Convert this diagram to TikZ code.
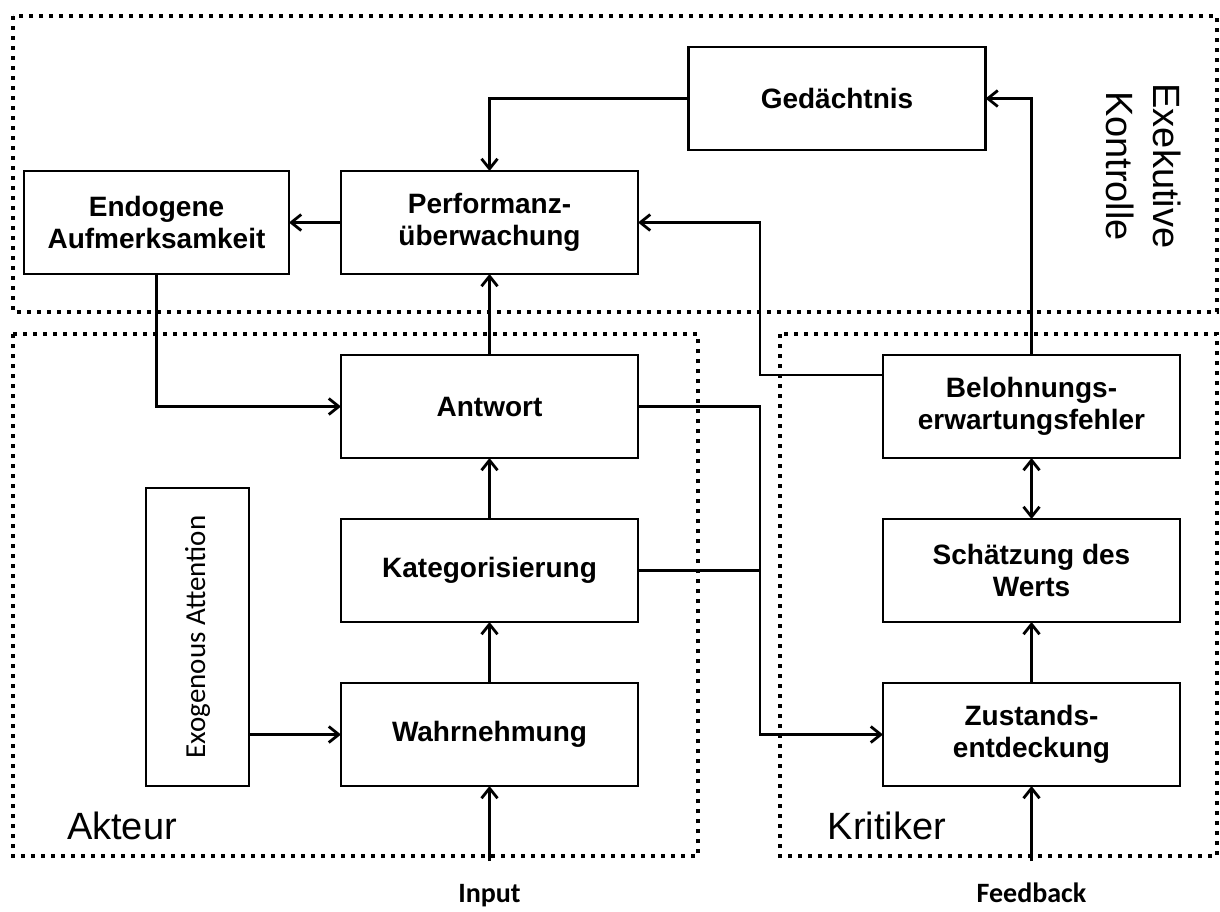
\documentclass[tikz,border=0pt]{standalone}
\usepackage{fontspec}
\setmainfont{Liberation Sans}
\newfontfamily\calfont{Carlito}
\usetikzlibrary{positioning, arrows.meta}

\begin{document}
\begin{tikzpicture}[x=0.5pt, y=-0.5pt,
    >={Straight Barb[length=5pt, width=8pt, line width=1.4pt]},
    block/.style={draw, line width=1.4pt, fill=white, minimum width=148.5pt,
      minimum height=51.5pt, inner sep=0pt, outer sep=0pt, align=center,
      font=\fontsize{14}{16}\selectfont\bfseries},
    group/.style={line width=2pt, dash pattern=on 2pt off 3pt},
    grouplabel/.style={font=\fontsize{19}{23.5}\selectfont, align=center},
    arr/.style={line width=1.4pt, ->},
    link/.style={line width=1.4pt},
    io/.style={font=\fontsize{14}{16}\selectfont\calfont\bfseries, inner ysep=11pt,
      text height=9.5pt, text depth=3pt}]
  \useasboundingbox (0,0) rectangle (1220,911);

  % group frames
  \draw[group] (13,16) rectangle (1217,312);
  \draw[group] (13,334) rectangle (698,856);
  \draw[group] (780,334) rectangle (1217,856);
  \node[grouplabel, rotate=-90] (exek) at (1144,166) {Exekutive\\Kontrolle};
  \node[grouplabel] (akteur) at (122,826) {Akteur};
  \node[grouplabel] (kritiker) at (887,826) {Kritiker};

  % actor column
  \node[block] (wahr) at (489.5,734.5) {Wahrnehmung};
  \node[block, above=30.5pt of wahr] (kat) {Kategorisierung};
  \node[block, above=30.5pt of kat] (antw) {Antwort};
  \node[block, above=40.5pt of antw] (perf) {Performanz-\\überwachung};
  \node[block, left=26pt of perf, minimum width=132.5pt] (endo) {Endogene\\Aufmerksamkeit};
  \node[block, minimum width=149pt, minimum height=51.5pt, rotate=90,
        font=\fontsize{14.5}{16}\selectfont\calfont] (exo) at (197.5,637) {Exogenous Attention};
  \node[block] (ged) at (837,98.5) {Gedächtnis};

  % critic column
  \node[block, right=122.5pt of wahr] (zust) {Zustands-\\entdeckung};
  \node[block, above=30.5pt of zust] (schaetz) {Schätzung des\\Werts};
  \node[block, above=30.5pt of schaetz] (bel) {Belohnungs-\\erwartungsfehler};

  % inputs
  \node[io] (input) at (489.5,896) {Input};
  \node[io] (feedback) at (1031.5,896) {Feedback};

  \coordinate (bus) at (760,500);

  \draw[arr] (input) -- (wahr);
  \draw[arr] (wahr) -- (kat);
  \draw[arr] (kat) -- (antw);
  \draw[arr] (antw) -- (perf);
  \draw[arr] (perf) -- (endo);
  \draw[arr] (endo.south) |- (antw.west);
  \draw[arr] (exo.south |- wahr.west) -- (wahr.west);
  \draw[arr] (ged.west) -| (perf.north);

  \draw[arr] (feedback) -- (zust);
  \draw[arr] (zust) -- (schaetz);
  \draw[arr, <->] (schaetz) -- (bel);
  \draw[arr] (bel.north) |- (ged.east);
  \draw[arr] ([yshift=-10pt]bel.north west) -| (perf.east -| bus) -- (perf.east);
  \draw[arr] (antw.east) -| (bus) |- (zust.west);
  \draw[link] (kat.east) -- (kat.east -| bus);
\end{tikzpicture}
\end{document}
